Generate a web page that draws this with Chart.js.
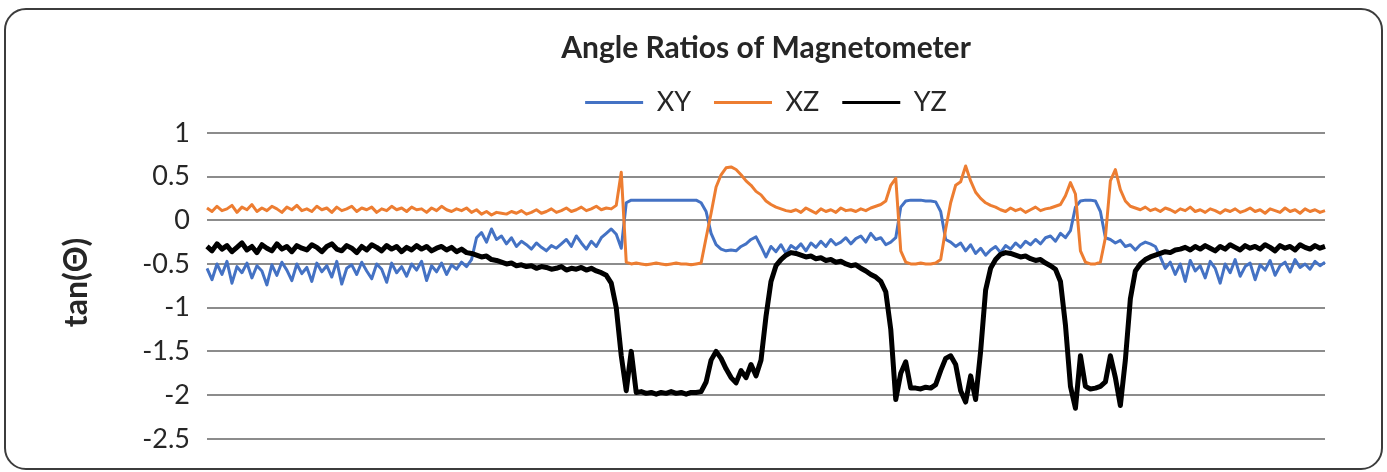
<!DOCTYPE html>
<html>
<head>
<meta charset="utf-8">
<script src="https://cdn.jsdelivr.net/npm/chart.js@4.4.1/dist/chart.umd.min.js"></script>
<style>
  html, body { margin: 0; padding: 0; background: #fff; }
  #frame {
    position: absolute; left: 4px; top: 8px;
    width: 1375px; height: 458px;
    border: 2px solid #3c3c3c; border-radius: 22px;
  }
  #chart { position: absolute; left: 0; top: 0; }
</style>
</head>
<body>
<div id="frame"></div>
<canvas id="chart" width="1387" height="472"></canvas>
<script>
// series names + tick values
const seriesNames = ['XY', 'XZ', 'YZ'];
const yTicks = [1, 0.5, 0, -0.5, -1, -1.5, -2, -2.5];

// tan values, one sample every few pixels
const xyValues = [
  -0.55, -0.68, -0.50, -0.62, -0.47, -0.72, -0.53, -0.60, -0.49, -0.66,
  -0.52, -0.58, -0.74, -0.51, -0.63, -0.48, -0.57, -0.69, -0.50, -0.61,
  -0.54, -0.70, -0.49, -0.59, -0.52, -0.65, -0.47, -0.73, -0.55, -0.51,
  -0.62, -0.48, -0.58, -0.67, -0.50, -0.56, -0.71, -0.49, -0.60, -0.53,
  -0.64, -0.50, -0.57, -0.47, -0.69, -0.52, -0.59, -0.49, -0.62, -0.51,
  -0.56, -0.48, -0.53, -0.45, -0.20, -0.14, -0.25, -0.10, -0.22, -0.18,
  -0.27, -0.20, -0.30, -0.24, -0.28, -0.33, -0.26, -0.31, -0.35, -0.29,
  -0.32, -0.27, -0.22, -0.30, -0.18, -0.26, -0.33, -0.24, -0.30, -0.20,
  -0.15, -0.10, -0.16, -0.32, 0.20, 0.23, 0.23, 0.23, 0.23, 0.23,
  0.23, 0.23, 0.23, 0.23, 0.23, 0.23, 0.23, 0.23, 0.23, 0.20,
  0.10, -0.15, -0.28, -0.33, -0.35, -0.34, -0.35, -0.30, -0.27, -0.22,
  -0.19, -0.30, -0.42, -0.30, -0.36, -0.28, -0.38, -0.29, -0.33, -0.27,
  -0.35, -0.26, -0.31, -0.24, -0.30, -0.22, -0.28, -0.25, -0.20, -0.27,
  -0.21, -0.18, -0.25, -0.15, -0.22, -0.20, -0.28, -0.25, -0.20, 0.15,
  0.22, 0.23, 0.23, 0.23, 0.22, 0.22, 0.21, 0.10, -0.22, -0.25,
  -0.30, -0.26, -0.35, -0.28, -0.38, -0.32, -0.40, -0.34, -0.30, -0.37,
  -0.29, -0.33, -0.26, -0.31, -0.24, -0.28, -0.22, -0.27, -0.20, -0.18,
  -0.24, -0.15, -0.20, -0.12, 0.15, 0.22, 0.23, 0.23, 0.22, 0.10,
  -0.20, -0.22, -0.26, -0.23, -0.30, -0.28, -0.34, -0.28, -0.25, -0.27,
  -0.30, -0.42, -0.55, -0.48, -0.62, -0.50, -0.70, -0.46, -0.58, -0.52,
  -0.66, -0.47, -0.55, -0.72, -0.50, -0.60, -0.45, -0.64, -0.53, -0.49,
  -0.68, -0.51, -0.57, -0.46, -0.63, -0.52, -0.48, -0.59, -0.45, -0.54,
  -0.50, -0.56, -0.47, -0.52, -0.48
];

const xzValues = [
  0.14, 0.10, 0.16, 0.11, 0.13, 0.17, 0.09, 0.15, 0.12, 0.18,
  0.10, 0.14, 0.11, 0.16, 0.13, 0.09, 0.15, 0.12, 0.17, 0.11,
  0.13, 0.10, 0.16, 0.12, 0.14, 0.09, 0.15, 0.11, 0.13, 0.16,
  0.10, 0.14, 0.12, 0.15, 0.09, 0.13, 0.11, 0.16, 0.12, 0.14,
  0.10, 0.15, 0.12, 0.13, 0.09, 0.14, 0.11, 0.16, 0.12, 0.10,
  0.13, 0.11, 0.14, 0.09, 0.12, 0.07, 0.10, 0.06, 0.09, 0.08,
  0.07, 0.10, 0.08, 0.11, 0.07, 0.09, 0.12, 0.08, 0.10, 0.13,
  0.09, 0.11, 0.14, 0.10, 0.12, 0.15, 0.11, 0.13, 0.16, 0.12,
  0.14, 0.13, 0.17, 0.55, -0.48, -0.50, -0.49, -0.50, -0.51, -0.50,
  -0.49, -0.50, -0.51, -0.50, -0.49, -0.50, -0.50, -0.51, -0.50, -0.49,
  -0.20, 0.08, 0.38, 0.52, 0.60, 0.61, 0.58, 0.52, 0.45, 0.40,
  0.33, 0.29, 0.22, 0.18, 0.15, 0.13, 0.11, 0.10, 0.12, 0.09,
  0.14, 0.11, 0.08, 0.13, 0.10, 0.12, 0.09, 0.14, 0.11, 0.12,
  0.10, 0.13, 0.11, 0.14, 0.16, 0.18, 0.22, 0.40, 0.48, -0.35,
  -0.48, -0.50, -0.50, -0.49, -0.50, -0.50, -0.49, -0.45, -0.10, 0.20,
  0.40, 0.44, 0.62, 0.45, 0.32, 0.25, 0.20, 0.17, 0.15, 0.12,
  0.10, 0.14, 0.11, 0.13, 0.09, 0.12, 0.15, 0.11, 0.13, 0.14,
  0.16, 0.18, 0.28, 0.43, 0.30, -0.35, -0.48, -0.50, -0.50, -0.48,
  -0.20, 0.45, 0.58, 0.35, 0.22, 0.16, 0.14, 0.12, 0.15, 0.11,
  0.13, 0.10, 0.14, 0.12, 0.09, 0.13, 0.11, 0.15, 0.10, 0.12,
  0.09, 0.13, 0.11, 0.08, 0.12, 0.10, 0.13, 0.09, 0.11, 0.14,
  0.10, 0.12, 0.08, 0.13, 0.11, 0.09, 0.14, 0.10, 0.12, 0.08,
  0.13, 0.10, 0.12, 0.09, 0.11
];

const yzValues = [
  -0.30, -0.35, -0.27, -0.33, -0.29, -0.36, -0.31, -0.26, -0.34, -0.30,
  -0.37, -0.28, -0.32, -0.35, -0.27, -0.33, -0.30, -0.36, -0.29, -0.32,
  -0.34, -0.28, -0.31, -0.36, -0.30, -0.27, -0.33, -0.35, -0.29, -0.32,
  -0.37, -0.30, -0.34, -0.28, -0.31, -0.35, -0.29, -0.33, -0.30, -0.36,
  -0.31, -0.34, -0.29, -0.33, -0.30, -0.35, -0.32, -0.30, -0.34, -0.31,
  -0.36, -0.33, -0.37, -0.38, -0.40, -0.42, -0.41, -0.45, -0.46, -0.48,
  -0.50, -0.49, -0.52, -0.51, -0.53, -0.52, -0.55, -0.53, -0.54, -0.56,
  -0.55, -0.53, -0.57, -0.55, -0.56, -0.54, -0.57, -0.55, -0.58, -0.60,
  -0.63, -0.72, -1.00, -1.55, -1.95, -1.50, -1.97, -1.96, -1.98, -1.97,
  -1.99, -1.97, -1.98, -1.96, -1.98, -1.97, -1.99, -1.97, -1.97, -1.96,
  -1.85, -1.60, -1.50, -1.58, -1.70, -1.80, -1.86, -1.72, -1.80, -1.65,
  -1.78, -1.60, -1.10, -0.70, -0.52, -0.45, -0.40, -0.37, -0.38, -0.40,
  -0.42, -0.41, -0.44, -0.43, -0.46, -0.45, -0.48, -0.47, -0.50, -0.52,
  -0.51, -0.55, -0.58, -0.62, -0.65, -0.70, -0.82, -1.25, -2.05, -1.75,
  -1.62, -1.92, -1.92, -1.93, -1.91, -1.92, -1.88, -1.72, -1.58, -1.55,
  -1.65, -1.95, -2.08, -1.78, -2.05, -1.50, -0.80, -0.55, -0.45, -0.39,
  -0.37, -0.38, -0.40, -0.42, -0.41, -0.44, -0.46, -0.45, -0.49, -0.52,
  -0.56, -0.70, -1.20, -1.90, -2.15, -1.55, -1.90, -1.93, -1.92, -1.90,
  -1.85, -1.55, -1.80, -2.12, -1.60, -0.90, -0.58, -0.50, -0.45, -0.42,
  -0.40, -0.38, -0.36, -0.37, -0.34, -0.33, -0.31, -0.34, -0.30, -0.33,
  -0.29, -0.32, -0.35, -0.30, -0.33, -0.28, -0.31, -0.34, -0.29, -0.32,
  -0.30, -0.33, -0.28, -0.31, -0.35, -0.29, -0.32, -0.30, -0.34, -0.28,
  -0.31, -0.33, -0.29, -0.32, -0.30
];

const sampleLabels = xyValues.map((v, i) => i);
const textColor = '#262626';
const font = 'Lato, "Open Sans", sans-serif';

new Chart(document.getElementById('chart'), {
  type: 'line',
  data: {
    labels: sampleLabels,
    datasets: [
      { label: seriesNames[0], data: xyValues, borderColor: '#4472C4', backgroundColor: '#4472C4', borderWidth: 3, order: 3 },
      { label: seriesNames[1], data: xzValues, borderColor: '#ED7D31', backgroundColor: '#ED7D31', borderWidth: 3, order: 2 },
      { label: seriesNames[2], data: yzValues, borderColor: '#000000', backgroundColor: '#000000', borderWidth: 5, order: 1 }
    ]
  },
  options: {
    responsive: false,
    animation: false,
    layout: { padding: { left: 0, right: 62, top: 0, bottom: 25 } },
    elements: { point: { radius: 0 }, line: { tension: 0, borderJoinStyle: 'round' } },
    scales: {
      x: { display: false },
      y: {
        min: -2.5,
        max: 1.078, //small gap between legend and top gridline
        afterBuildTicks: s => { s.ticks = yTicks.map(v => ({ value: v })); },
        afterFit: s => { s.width = 207; }, //lines start at 207px
        border: { display: false },
        grid: { color: '#8c8c8c', lineWidth: 2, drawTicks: false },
        ticks: {
          color: textColor,
          padding: 17,
          font: { family: font, size: 27 },
          callback: v => String(v)
        },
        title: {
          display: true,
          text: 'tan(Θ)',
          color: textColor,
          padding: { top: 57, bottom: 0 },
          font: { family: font, size: 32, weight: 'bold' }
        }
      }
    },
    plugins: {
      title: {
        display: true,
        fullSize: false,
        text: 'Angle Ratios of Magnetometer',
        color: textColor,
        padding: { top: 30, bottom: 0 },
        font: { family: font, size: 30, weight: 'bold' }
      },
      legend: {
        fullSize: false,
        reverse: true,
        labels: {
          color: textColor,
          boxWidth: 58,
          boxHeight: 3,
          padding: 23,
          font: { family: font, size: 27 },
          //plain line swatch, no outline
          generateLabels: chart => Chart.defaults.plugins.legend.labels.generateLabels(chart)
            .map(item => Object.assign(item, { lineWidth: 0, fillStyle: item.strokeStyle }))
        }
      },
      tooltip: { enabled: false }
    }
  }
});
</script>
</body>
</html>
